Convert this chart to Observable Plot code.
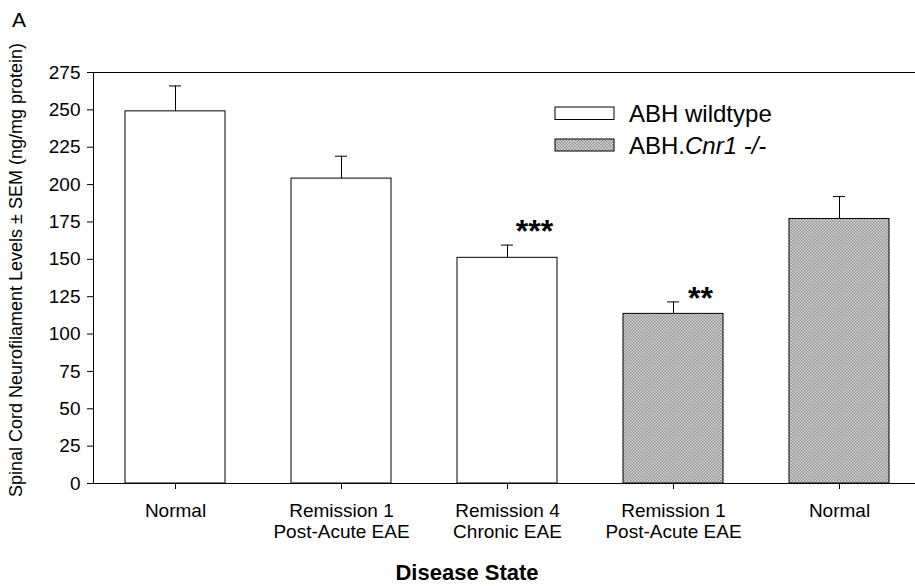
<!DOCTYPE html>
<html>
<head>
<meta charset="utf-8">
<script src="https://cdn.jsdelivr.net/npm/d3@7"></script>
<script src="https://cdn.jsdelivr.net/npm/@observablehq/plot@0.6"></script>
<style>
  html, body { margin: 0; padding: 0; background: #fff; overflow: hidden; }
  #chart svg { display: block; }
</style>
</head>
<body>
<div id="chart"></div>
<script>
// ---- data ----
const categoryLabels = ["Normal", "Remission 1\nPost-Acute EAE", "Remission 4\nChronic EAE", "Remission 1\nPost-Acute EAE", "Normal"];
const groups = ["ABH wildtype", "ABH wildtype", "ABH wildtype", "ABH.Cnr1 -/-", "ABH.Cnr1 -/-"];
const means = [249, 204, 151, 113.5, 177];
const sems = [17, 15, 8.5, 8, 15];
const stars = ["", "", "***", "**", ""];
const starLevels = [null, null, 173, 128.5, null];
const yTicks = [0, 25, 50, 75, 100, 125, 150, 175, 200, 225, 250, 275];

const rows = categoryLabels.map((label, i) => ({
  idx: i, label, group: groups[i], mean: means[i], top: means[i] + sems[i],
  star: stars[i], starY: starLevels[i]
}));
const starRows = rows.filter(d => d.star);

const fillFor = g => g === "ABH wildtype" ? "white" : "url(#stipple)";

const plot = Plot.plot({
  width: 915,
  height: 586,
  marginTop: 72,
  marginBottom: 103,
  marginLeft: 93,
  marginRight: 0,
  style: { fontFamily: "'Liberation Sans', Arial, sans-serif", fontSize: "19px", color: "black", background: "white", overflow: "visible" },
  x: { type: "band", domain: rows.map(d => d.idx), range: [92, 922], paddingInner: 0.4, paddingOuter: 0.2, align: 0.5 },
  y: { domain: [0, 275] },
  marks: [
    Plot.barY(rows, { x: "idx", y: "mean", fill: d => fillFor(d.group), stroke: "black", strokeWidth: 1 }),
    Plot.ruleX(rows, { x: "idx", y1: "mean", y2: "top", stroke: "black", strokeWidth: 1 }),
    Plot.tickY(rows, { x: "idx", y: "top", insetLeft: 44, insetRight: 44, stroke: "black", strokeWidth: 1 }),
    Plot.text(starRows, { x: "idx", y: "starY", text: "star", dx: 27, dy: 7, fontSize: 32, fontWeight: "bold", fill: "black" }),
    Plot.ruleY([275], { stroke: "black", strokeWidth: 1 }),
    Plot.ruleY([0], { stroke: "black", strokeWidth: 1 }),
    Plot.frame({ anchor: "left", stroke: "black", strokeWidth: 1 }),
    Plot.axisY({ ticks: yTicks, tickSize: 6, tickPadding: 7, label: null, fontSize: 19 }),
    Plot.axisX({ tickSize: 6, tickPadding: 13, label: null, tickFormat: i => categoryLabels[i], lineHeight: 1.1, fontSize: 19 })
  ]
});

const svg = d3.select(plot);
// stipple pattern for knockout bars
const defs = svg.insert("defs", ":first-child");
const pat = defs.append("pattern").attr("id", "stipple").attr("patternUnits", "userSpaceOnUse")
  .attr("width", 3).attr("height", 3);
pat.append("rect").attr("width", 3).attr("height", 3).attr("fill", "#dcdcdc");
pat.append("rect").attr("x", 0).attr("y", 0).attr("width", 1.5).attr("height", 1.5).attr("fill", "#8c8c8c");
pat.append("rect").attr("x", 1.5).attr("y", 1.5).attr("width", 1.5).attr("height", 1.5).attr("fill", "#8c8c8c");

const ann = svg.append("g").attr("font-family", "'Liberation Sans', Arial, sans-serif")
  .attr("fill", "black").attr("text-anchor", "start");
// panel letter
ann.append("text").attr("x", 12).attr("y", 27).attr("font-size", 21).text("A");
// y-axis title
ann.append("text").attr("transform", "translate(22,270) rotate(-90)").attr("text-anchor", "middle")
  .attr("font-size", 18).text("Spinal Cord Neurofilament Levels \u00b1 SEM (ng/mg protein)");
// x-axis title
ann.append("text").attr("x", 467).attr("y", 580).attr("text-anchor", "middle")
  .attr("font-size", 22).attr("font-weight", "bold").text("Disease State");

// legend
const legend = [
  { name: "ABH wildtype", y: 107, h: 12.5 },
  { name: "ABH.Cnr1 -/-", y: 139, h: 12 }
];
legend.forEach((l, i) => {
  ann.append("rect").attr("x", 555).attr("y", l.y).attr("width", 59).attr("height", l.h)
    .attr("fill", fillFor(l.name)).attr("stroke", "black").attr("stroke-width", 1);
  const t = ann.append("text").attr("x", 629).attr("y", l.y + l.h / 2).attr("dy", "0.36em")
    .attr("font-size", 24).attr("text-anchor", "start");
  if (i === 0) t.text("ABH wildtype");
  else {
    t.append("tspan").text("ABH.");
    t.append("tspan").attr("font-style", "italic").text("Cnr1 -/-");
  }
});

document.getElementById("chart").appendChild(plot);
</script>
</body>
</html>
